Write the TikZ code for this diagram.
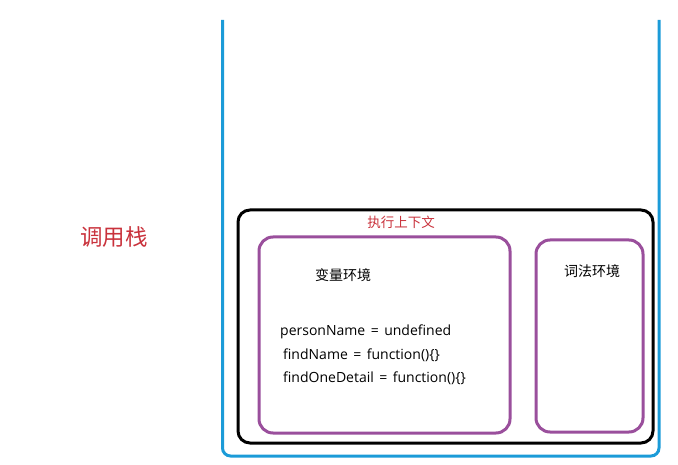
\documentclass[tikz,border=0pt]{standalone}
\usepackage{fontspec}
\setmainfont{Noto Sans CJK SC}
\newfontfamily\codefont{Open Sans}
\definecolor{stackblue}{HTML}{1B9BD8}
\definecolor{envpurple}{HTML}{9A4F9C}
\definecolor{labelred}{HTML}{C9323C}
\newcommand{\eqsp}{\hspace{5.5pt}=\hspace{5.5pt}}
\begin{document}
\begin{tikzpicture}[x=1pt,y=-1pt,
  stackline/.style={draw=stackblue,line width=3pt,rounded corners=8pt},
  ctxbox/.style={draw=black,line width=3pt,rounded corners=12pt},
  envbox/.style={draw=envpurple,line width=3pt,rounded corners=14pt},
  redlabel/.style={text=labelred,inner sep=0pt,anchor=center},
  txt/.style={inner sep=0pt,font=\fontsize{14}{16}\selectfont},
  code/.style={inner sep=0pt,anchor=west,font=\codefont\fontsize{14}{16}\selectfont}]
\useasboundingbox (0,0) rectangle (678,465);
\coordinate (stl) at (222.5,20);
\coordinate (str) at (659,20);
\draw[stackline] (stl) -- (222.5,456) -- (659,456) -- (str);
\draw[ctxbox] (238,210) rectangle (653,443);
\draw[envbox] (259,237) rectangle (510,433);
\draw[envbox] (536,240) rectangle (643,432);
\node[redlabel,font=\fontsize{22.5}{24}\selectfont] (stack) at (114,237) {调用栈};
\node[redlabel,font=\fontsize{13.5}{16}\selectfont] (ctx) at (401,222) {执行上下文};
\node[txt] (varenv) at (343,275) {变量环境};
\node[txt] (lexenv) at (592,271) {词法环境};
\node[code] (l1) at (280,332) {personName\eqsp undefined};
\node[code] (l2) at (283,355) {findName\eqsp function()\{\}};
\node[code] (l3) at (283,378) {findOneDetail\eqsp function()\{\}};
\end{tikzpicture}
\end{document}
